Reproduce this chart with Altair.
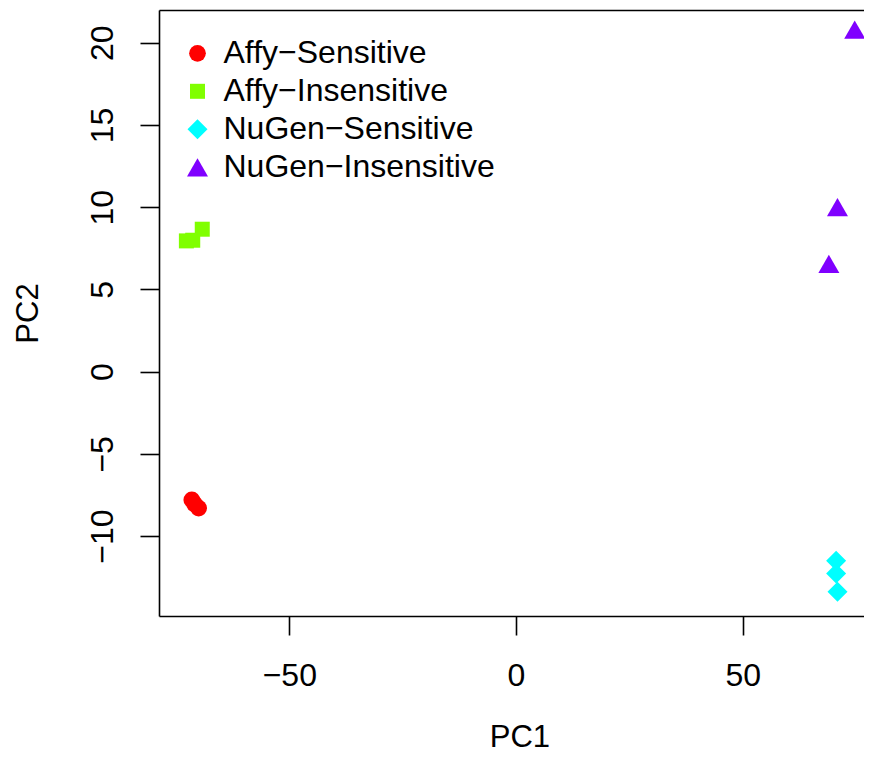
import altair as alt
import pandas as pd

groups = ["Affy−Sensitive"] * 3 + ["Affy−Insensitive"] * 3 + ["NuGen−Sensitive"] * 3 + ["NuGen−Insensitive"] * 3
pc1 = [-71.5, -70.9, -70.0,
       -72.7, -71.3, -69.2,
       70.6, 70.6, 70.9,
       74.7, 70.9, 69.0]
pc2 = [-7.8, -8.05, -8.3,
       7.95, 7.99, 8.66,
       -11.5, -12.27, -13.39,
       20.8, 10.0, 6.55]

order = ["Affy−Sensitive", "Affy−Insensitive", "NuGen−Sensitive", "NuGen−Insensitive"]
colors = ["#FF0000", "#80FF00", "#00FFFF", "#8000FF"]
shapes = ["circle", "square", "diamond", "triangle-up"]
sizes = [280, 225, 400, 441]

x_ticks = [-50, 0, 50]
y_ticks = [-10, -5, 0, 5, 10, 15, 20]

df = pd.DataFrame({"group": groups, "pc1": pc1, "pc2": pc2})

FONT = "Liberation Sans"
xs = alt.Scale(domain=[-78.74, 76.75], nice=False, zero=False)
ys = alt.Scale(domain=[-14.86, 21.99], nice=False, zero=False)

legend = alt.Legend(
    title=None, orient="none", legendX=22.5, legendY=27.3,
    labelFont=FONT, labelFontSize=32, labelColor="black", labelLimit=0,
    labelOffset=10, rowPadding=6, padding=0,
    symbolStrokeWidth=0, symbolOpacity=1,
)

pts = alt.Chart(df).mark_point(filled=True, opacity=1, strokeWidth=0).encode(
    x=alt.X("pc1:Q", scale=xs, axis=alt.Axis(
        values=x_ticks, title="PC1", grid=False,
        domainColor="black", domainWidth=1.6, tickColor="black", tickWidth=1.6, tickSize=19,
        labelFont=FONT, labelFontSize=32, labelColor="black", labelPadding=25,
        titleFont=FONT, titleFontSize=31, titleFontWeight="normal", titleColor="black",
        titleX=360.4, titleY=130.5, titleAlign="center", titleBaseline="alphabetic",
    )),
    y=alt.Y("pc2:Q", scale=ys, axis=alt.Axis(
        values=y_ticks, title="PC2", grid=False,
        domainColor="black", domainWidth=1.6, tickColor="black", tickWidth=1.6, tickSize=19,
        labelFont=FONT, labelFontSize=32, labelColor="black", labelPadding=21,
        labelAngle=-90, labelAlign="center", labelBaseline="bottom",
        titleFont=FONT, titleFontSize=31, titleFontWeight="normal", titleColor="black",
        titleAngle=270, titleX=-122, titleY=303, titleAlign="center", titleBaseline="alphabetic",
    )),
    color=alt.Color("group:N", scale=alt.Scale(domain=order, range=colors), legend=legend),
    shape=alt.Shape("group:N", scale=alt.Scale(domain=order, range=shapes), legend=legend),
    size=alt.Size("group:N", scale=alt.Scale(type="ordinal", domain=order, range=sizes), legend=legend),
)

frame_top = alt.Chart(df).mark_point(opacity=0).encode(
    x=alt.X("pc1:Q", scale=xs, axis=alt.Axis(
        orient="top", labels=False, ticks=False, title=None, grid=False,
        domainColor="black", domainWidth=1.6)),
    y=alt.Y("pc2:Q", scale=ys, axis=None),
)

chart = alt.layer(pts, frame_top).resolve_axis(x="independent", y="independent").properties(
    width=705, height=606,
    autosize=alt.AutoSizeParams(type="none"),
    padding={"left": 151, "top": 2, "right": 0, "bottom": 137},
    background="white",
).configure_view(stroke=None)

chart.save("out.html", embed_options={"renderer": "svg", "actions": False})
